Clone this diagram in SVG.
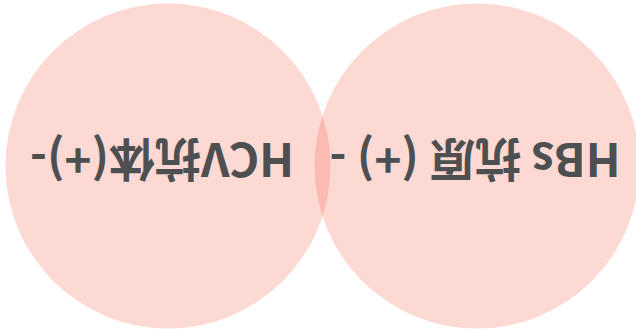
<svg xmlns="http://www.w3.org/2000/svg" width="636" height="334" viewBox="0 0 636 334">
<style>
.set{fill:#f75a45;fill-opacity:0.23}
.lbl{font-family:"Noto Sans CJK SC","Noto Sans",sans-serif;font-weight:bold;font-size:46px;fill:#4d4f51;text-anchor:middle}
</style>
<rect width="636" height="334" fill="#ffffff"/>
<g transform="rotate(180 318 167)">
<g id="hbs">
<circle class="set" cx="159" cy="168" r="162.5"/>
<text class="lbl" x="161" y="191">HBs 抗原 (+) -</text>
</g>
<g id="hcv">
<circle class="set" cx="468" cy="168" r="162.5"/>
<text class="lbl" x="474" y="191">HCV抗体(+)-</text>
</g>
</g>
</svg>
